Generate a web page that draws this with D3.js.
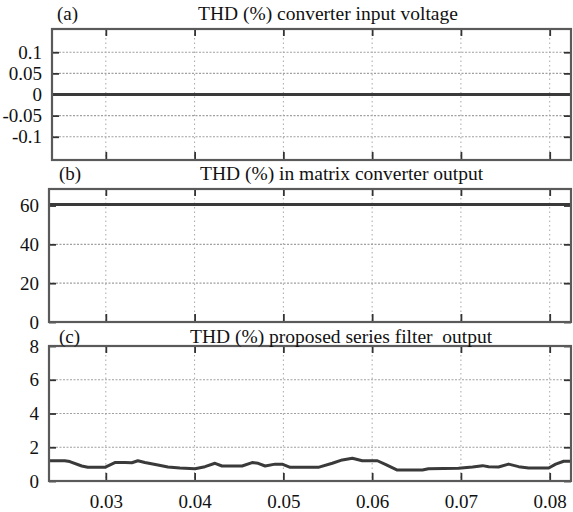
<!DOCTYPE html>
<html>
<head>
<meta charset="utf-8">
<script src="https://cdn.jsdelivr.net/npm/d3@7"></script>
<style>
	html, body { margin: 0; padding: 0; background: #fff; }
	svg { display: block; }
	text { font-family: 'Times New Roman', Times, 'Liberation Serif', 'DejaVu Serif', serif; fill: #111; }
</style>
</head>
<body>
<svg id="canvas"></svg>
<script>
// x axis (time, s)
const xTicks = [0.03, 0.04, 0.05, 0.06, 0.07, 0.08];
const xDomain = [0.0236, 0.0824];

// panel titles
const panelTags = ['(a)', '(b)', '(c)'];
const panelTitles = [
	'THD (%) converter input voltage',
	'THD (%) in matrix converter output',
	'THD (%) proposed series filter  output'
];

// y ticks per panel
const yTicksA = [-0.1, -0.05, 0, 0.05, 0.1];
const yTicksB = [0, 20, 40, 60];
const yTicksC = [0, 2, 4, 6, 8];
const yDomainA = [-0.155, 0.155];
const yDomainB = [0, 68.5];
const yDomainC = [0, 8];

// (a) input voltage THD - flat at zero
const timeA = [0.0236, 0.0824];
const thdA = [0, 0];

// (b) matrix converter output THD - flat around 60 %
const timeB = [0.0236, 0.0824];
const thdB = [60.5, 60.5];

// (c) series filter output THD
const timeC = [
	0.02368, 0.02537, 0.02594, 0.02729, 0.02797, 0.02989, 0.03102, 0.03214, 0.03293, 0.03361,
	0.0344, 0.03587, 0.037, 0.03835, 0.04005, 0.04117, 0.0423, 0.04309, 0.04535, 0.04648,
	0.04716, 0.04795, 0.04907, 0.04986, 0.05077, 0.05393, 0.05551, 0.05664, 0.05777, 0.05889,
	0.06059, 0.06149, 0.06284, 0.06567, 0.06634, 0.06973, 0.07131, 0.07244, 0.07312, 0.07424,
	0.07537, 0.0765, 0.07763, 0.07989, 0.08068, 0.08158, 0.08248
];
const thdC = [
	1.2, 1.2, 1.15, 0.89, 0.81, 0.81, 1.09, 1.1, 1.08, 1.2,
	1.1, 0.95, 0.83, 0.77, 0.73, 0.85, 1.05, 0.89, 0.89, 1.09,
	1.05, 0.89, 1.0, 1.0, 0.81, 0.81, 1.05, 1.25, 1.35, 1.2,
	1.2, 0.99, 0.65, 0.65, 0.73, 0.75, 0.83, 0.91, 0.85, 0.83,
	1.0, 0.85, 0.77, 0.77, 1.0, 1.17, 1.17
];

const w = 573;
const h = 512;
const right = 571;
const serif = "'Times New Roman', Times, 'Liberation Serif', 'DejaVu Serif', serif";

const svg = d3.select('#canvas').attr('width', w).attr('height', h);

const x = d3.scaleLinear().domain(xDomain).range([49, right]);

// layout of the three stacked panels
const panels = [
	{ tag: panelTags[0], title: panelTitles[0], top: 29, bottom: 160, left: 52, tagX: 57, titleX: 198, titleY: 20,
		yTicks: yTicksA, yDomain: yDomainA, time: timeA, values: thdA },
	{ tag: panelTags[1], title: panelTitles[1], top: 189, bottom: 322, left: 49, tagX: 59, titleX: 200, titleY: 180,
		yTicks: yTicksB, yDomain: yDomainB, time: timeB, values: thdB },
	{ tag: panelTags[2], title: panelTitles[2], top: 346, bottom: 481, left: 49, tagX: 59, titleX: 190, titleY: 343,
		yTicks: yTicksC, yDomain: yDomainC, time: timeC, values: thdC }
];

panels.forEach((p, i) => {
	const y = d3.scaleLinear().domain(p.yDomain).range([p.bottom, p.top]);
	const g = svg.append('g');
	const pw = right - p.left;
	const ph = p.bottom - p.top;

	// clip
	const clipId = 'clip' + i;
	svg.append('clipPath').attr('id', clipId)
		.append('rect').attr('x', p.left).attr('y', p.top).attr('width', pw).attr('height', ph);

	// grid lines
	g.append('g').selectAll('line').data(p.yTicks).enter().append('line')
		.attr('x1', p.left).attr('x2', right)
		.attr('y1', (d) => y(d)).attr('y2', (d) => y(d))
		.attr('stroke', '#a0a0a0').attr('stroke-width', 1.2).attr('stroke-dasharray', '2,1.5');
	g.append('g').selectAll('line').data(xTicks).enter().append('line')
		.attr('x1', (d) => x(d)).attr('x2', (d) => x(d))
		.attr('y1', p.top).attr('y2', p.bottom)
		.attr('stroke', '#a8a8a8').attr('stroke-width', 1).attr('stroke-dasharray', '1.5,3');

	// tick marks (inward, all four sides)
	const yLeft = d3.axisLeft(y).tickValues(p.yTicks).tickSize(-7).tickPadding(10).tickFormat((d) => String(d));
	const yRight = d3.axisRight(y).tickValues(p.yTicks).tickSize(-7).tickFormat('');
	const xTop = d3.axisTop(x).tickValues(xTicks).tickSize(-7).tickFormat('');
	const xBottom = d3.axisBottom(x).tickValues(xTicks).tickSize(-8).tickPadding(14)
		.tickFormat(i === 2 ? (d) => String(d) : '');

	const axes = [
		g.append('g').attr('transform', 'translate(' + p.left + ',0)').call(yLeft),
		g.append('g').attr('transform', 'translate(' + right + ',0)').call(yRight),
		g.append('g').attr('transform', 'translate(0,' + p.top + ')').call(xTop),
		g.append('g').attr('transform', 'translate(0,' + p.bottom + ')').call(xBottom)
	];
	axes.forEach((a) => {
		a.attr('font-family', serif);
		a.select('.domain').remove();
		a.selectAll('.tick line').attr('stroke', '#333').attr('stroke-width', 1.8);
		a.selectAll('.tick text').attr('font-size', 19).style('font-family', serif).attr('fill', '#111');
	});

	// data line
	const pts = p.time.map((t, k) => [t, p.values[k]]);
	g.append('path')
		.datum(pts)
		.attr('clip-path', 'url(#' + clipId + ')')
		.attr('fill', 'none')
		.attr('stroke', '#3a3a3a')
		.attr('stroke-width', 3)
		.attr('stroke-linejoin', 'round')
		.attr('d', d3.line().x((d) => x(d[0])).y((d) => y(d[1])));

	// frame
	g.append('rect')
		.attr('x', p.left).attr('y', p.top).attr('width', pw).attr('height', ph)
		.attr('fill', 'none').attr('stroke', '#5a5a5a').attr('stroke-width', 2.2);

	// titles
	svg.append('text').attr('x', p.tagX).attr('y', p.titleY)
		.attr('font-size', 19).style('font-family', serif).text(p.tag);
	svg.append('text').attr('x', p.titleX).attr('y', p.titleY)
		.attr('font-size', 19.5).style('font-family', serif).style('white-space', 'pre').text(p.title);
});
</script>
</body>
</html>
